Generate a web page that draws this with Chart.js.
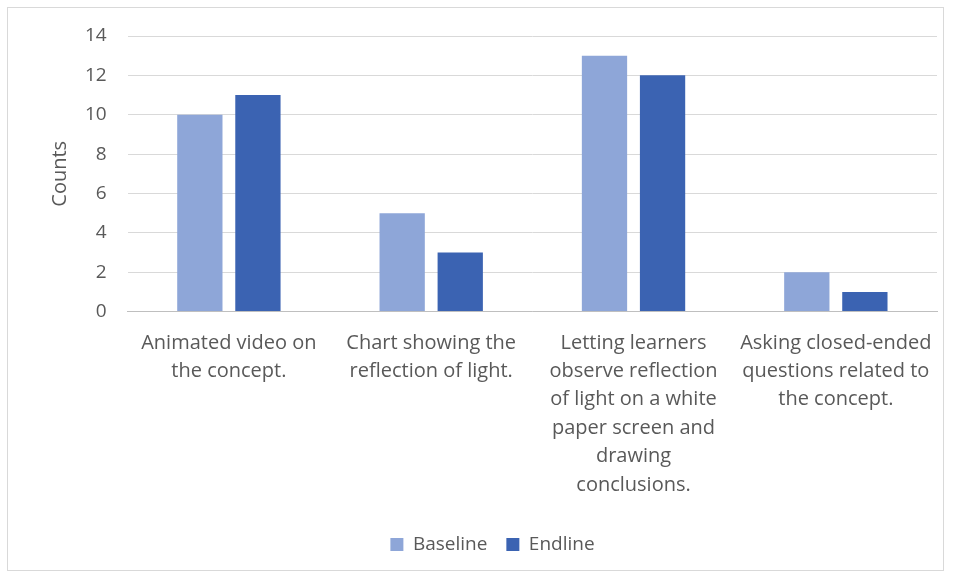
<!DOCTYPE html>
<html>
<head>
<meta charset="utf-8">
<script src="https://cdn.jsdelivr.net/npm/chart.js"></script>
<style>
  html, body { margin: 0; padding: 0; background: #fff; }
  #wrap {
    position: absolute; left: 7px; top: 7px;
    width: 937px; height: 564px;
    border: 1px solid #d9d9d9; box-sizing: border-box;
  }
</style>
</head>
<body>
<div id="wrap"><canvas id="chart"></canvas></div>
<script>
// --- data ---
const categories = [
    ['Animated video on', 'the concept.'],
    ['Chart showing the', 'reflection of light.'],
    ['Letting learners', 'observe reflection', 'of light on a white', 'paper screen and', 'drawing', 'conclusions.'],
    ['Asking closed-ended', 'questions related to', 'the concept.']
];
const baseline = [10, 5, 13, 2];
const endline = [11, 3, 12, 1];
const yTicks = [0, 2, 4, 6, 8, 10, 12, 14];

const textGray = '#595959';
const fontFamily = "'Open Sans', 'Liberation Sans', sans-serif";

document.addEventListener('DOMContentLoaded', () => {
    const ctx = document.getElementById('chart');

    new Chart(ctx, {
        type: 'bar',
        data: {
            labels: categories,
            datasets: [
                {
                    label: 'Baseline',
                    data: baseline,
                    backgroundColor: '#8ea6d8',
                    categoryPercentage: 0.574,
                    barPercentage: 0.78
                },
                {
                    label: 'Endline',
                    data: endline,
                    backgroundColor: '#3b63b2',
                    categoryPercentage: 0.574,
                    barPercentage: 0.78
                }
            ]
        },
        options: {
            responsive: true,
            maintainAspectRatio: false,
            animation: false,
            layout: { padding: { left: 40, right: 6, top: 28, bottom: 6 } },
            scales: {
                x: {
                    grid: { display: false, drawTicks: false },
                    border: { color: '#bfbfbf' },
                    afterFit: axis => { axis.paddingLeft = 0; axis.paddingRight = 0; },
                    ticks: {
                        color: textGray,
                        maxRotation: 0,
                        autoSkip: false,
                        padding: 17,
                        font: { family: fontFamily, size: 20, lineHeight: 1.42 }
                    }
                },
                y: {
                    min: 0,
                    max: 14,
                    afterBuildTicks: axis => { axis.ticks = yTicks.map(v => ({ value: v })); },
                    // tick padding would otherwise also push the plot top down
                    afterFit: axis => { axis.paddingTop = 0; },
                    grid: { color: '#d9d9d9', drawTicks: false },
                    border: { display: false },
                    ticks: {
                        color: textGray,
                        padding: 21,
                        font: { family: fontFamily, size: 19 }
                    },
                    title: {
                        display: true,
                        text: 'Counts',
                        color: textGray,
                        padding: { top: 0, bottom: -8 },
                        font: { family: fontFamily, size: 20 }
                    }
                }
            },
            plugins: {
                legend: {
                    position: 'bottom',
                    labels: {
                        color: textGray,
                        boxWidth: 13,
                        boxHeight: 13,
                        padding: 19,
                        font: { family: fontFamily, size: 19 }
                    }
                },
                tooltip: { enabled: false }
            }
        }
    });
});
</script>
</body>
</html>
